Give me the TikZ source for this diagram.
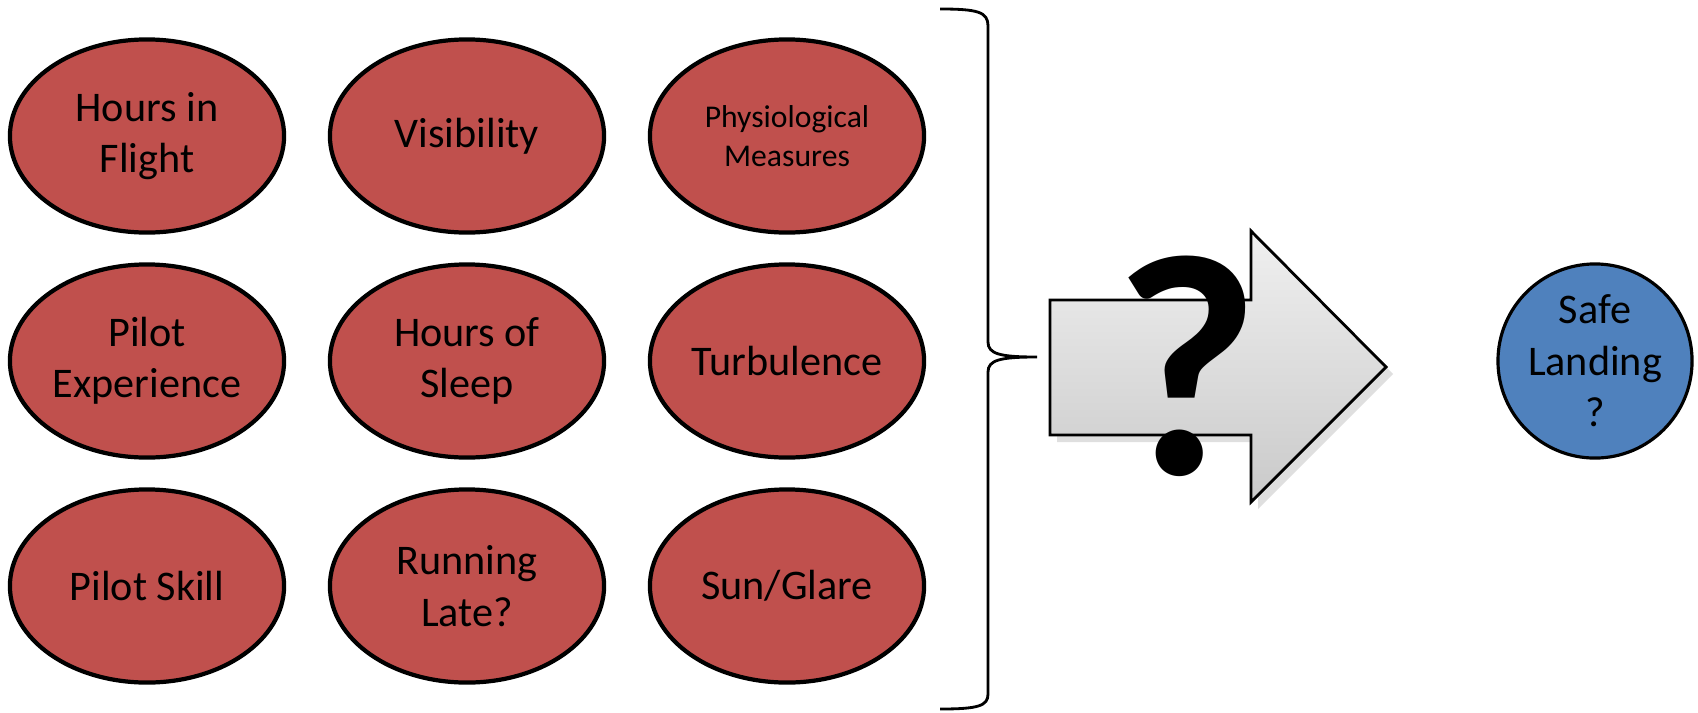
\documentclass[tikz,border=0pt]{standalone}
\usepackage{fontspec}
\setmainfont{Carlito}
\usetikzlibrary{shapes.geometric,shadows}
\definecolor{factorred}{HTML}{C0504D}
\definecolor{outcomeblue}{HTML}{4F81BD}
\tikzset{factor/.style={ellipse, draw=black, line width=1.2pt, fill=factorred,
  minimum width=2.74cm, minimum height=1.93cm, inner sep=0pt, align=center,
  font=\fontsize{12}{14.6}\selectfont}}
\tikzset{outcome/.style={circle, draw=black, line width=0.9pt, fill=outcomeblue,
  minimum size=1.94cm, inner sep=0pt, align=center,
  font=\fontsize{12}{14.6}\selectfont}}

\begin{document}
\begin{tikzpicture}[x=0.01cm, y=-0.01cm]
      \useasboundingbox (0,0) rectangle (1698,712);

      \node [factor] (flight) at (147, 136) {Hours in\\Flight};
      \node [factor] (visibility) at (467, 136) {Visibility};
      \node [factor, font=\fontsize{9}{11}\selectfont] (physio) at (787, 136) {Physiological\\Measures};

      \node [factor] (experience) at (147, 361) {Pilot\\Experience};
      \node [factor] (sleep) at (467, 361) {Hours of\\Sleep};
      \node [factor] (turbulence) at (787, 361) {Turbulence};

      \node [factor] (skill) at (147, 586) {Pilot Skill};
      \node [factor] (late) at (467, 586) {Running\\Late?};
      \node [factor] (glare) at (787, 586) {Sun/Glare};

      \coordinate (bracetip) at (1037, 357);
      \draw [line width=0.8pt] (940, 9) .. controls (978, 9) and (988, 12) .. (988, 26)
        -- (988, 342) .. controls (988, 354) and (1000, 357) .. (bracetip)
        .. controls (1000, 357) and (988, 360) .. (988, 372)
        -- (988, 694) .. controls (988, 706) and (978, 709) .. (940, 709);

      \draw [line width=0.8pt, top color=gray!12, bottom color=gray!42,
        drop shadow={shadow xshift=2pt, shadow yshift=-2pt, opacity=0.25}]
        (1050, 300) -- (1251, 300) -- (1251, 231) -- (1386, 367)
        -- (1251, 502) -- (1251, 435) -- (1050, 435) -- cycle;
      \node (query) at (1187, 366) {\fontsize{90}{90}\selectfont\bfseries ?};

      \node [outcome] (landing) at (1595, 361) {Safe\\Landing\\?};
    \end{tikzpicture}
\end{document}
